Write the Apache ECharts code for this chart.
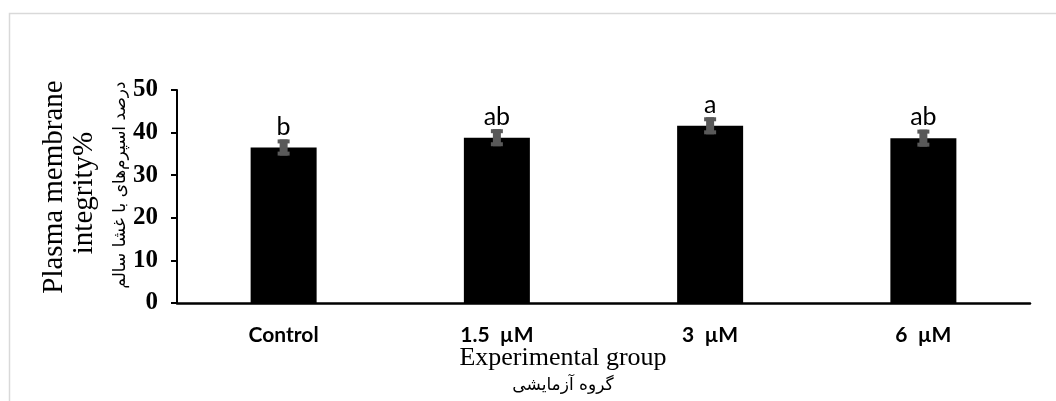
<!DOCTYPE html>
<html>
<head>
<meta charset="utf-8">
<script src="https://cdn.jsdelivr.net/npm/echarts@6/dist/echarts.min.js"></script>
<style>html,body{margin:0;padding:0;background:#fff}#c{width:1056px;height:401px}</style>
</head>
<body>
<div id="c"></div>
<script>
const categories = ['Control', '1.5  µM', '3  µM', '6  µM'];
const values = [36.5, 38.8, 41.6, 38.7];
const errors = [1.9, 2.0, 2.0, 2.0];
const letters = ['b', 'ab', 'a', 'ab'];
const yTicks = [0, 10, 20, 30, 40, 50];

const chart = echarts.init(document.getElementById('c'));
const errData = values.map((v, i) => [i, v - errors[i], v + errors[i], letters[i]]);

chart.setOption({
  animation: false,
  backgroundColor: '#fff',
  grid: { left: 177, right: 26, top: 90, bottom: 98 },
  xAxis: {
    type: 'category',
    data: categories,
    axisLine: { lineStyle: { color: '#000', width: 2.5 } },
    axisTick: { show: false },
    axisLabel: { color: '#000', fontFamily: 'Lato', fontWeight: 'bold', fontSize: 21, margin: 22 }
  },
  yAxis: {
    type: 'value',
    min: yTicks[0], max: yTicks[yTicks.length - 1], interval: 10,
    splitLine: { show: false },
    axisLine: { show: true, lineStyle: { color: '#000', width: 2 } },
    axisTick: { show: true, length: 6, lineStyle: { color: '#000', width: 2 } },
    axisLabel: { color: '#000', fontFamily: 'Liberation Serif', fontWeight: 'bold', fontSize: 25, margin: 19 }
  },
  series: [
    {
      type: 'bar',
      data: values,
      barWidth: 66,
      itemStyle: { color: '#000' }
    },
    {
      type: 'custom',
      data: errData,
      z: 5,
      renderItem: function (params, api) {
        const x = api.coord([api.value(0), 0])[0];
        const lo = api.coord([api.value(0), api.value(1)])[1];
        const hi = api.coord([api.value(0), api.value(2)])[1];
        const c = '#595959';
        return {
          type: 'group',
          children: [
            { type: 'rect', shape: { x: x - 4, y: hi, width: 8, height: lo - hi }, style: { fill: c } },
            { type: 'rect', shape: { x: x - 6, y: hi, width: 12, height: 4 }, style: { fill: c } },
            { type: 'rect', shape: { x: x - 6, y: lo - 4, width: 12, height: 4 }, style: { fill: c } },
            { type: 'text', style: { text: api.value(3), x: x, y: hi, textAlign: 'center', textVerticalAlign: 'bottom', fill: '#000', font: '25px Lato' } }
          ]
        };
      }
    }
  ],
  graphic: [
    { type: 'rect', shape: { x: 9.5, y: 13.5, width: 1100, height: 500 }, style: { fill: 'none', stroke: '#d9d9d9', lineWidth: 1.5 }, z: -10 },
    { type: 'text', x: 54, y: 187, rotation: Math.PI / 2, style: { text: 'Plasma membrane', font: '29px "Liberation Serif"', fill: '#000', textAlign: 'center', textVerticalAlign: 'middle' } },
    { type: 'text', x: 84, y: 193, rotation: Math.PI / 2, style: { text: 'integrity%', font: '29px "Liberation Serif"', fill: '#000', textAlign: 'center', textVerticalAlign: 'middle' } },
    { type: 'text', x: 121, y: 185, rotation: Math.PI / 2, style: { text: 'درصد اسپرم‌های با غشا سالم', font: '17px "DejaVu Sans"', fill: '#000', textAlign: 'center', textVerticalAlign: 'middle' } },
    { type: 'text', x: 563, y: 358, style: { text: 'Experimental group', font: '26px "Liberation Serif"', fill: '#000', textAlign: 'center', textVerticalAlign: 'middle' } },
    { type: 'text', x: 563, y: 386, style: { text: 'گروه آزمایشی', font: '17px "DejaVu Sans"', fill: '#000', textAlign: 'center', textVerticalAlign: 'middle' } }
  ]
});
</script>
</body>
</html>
